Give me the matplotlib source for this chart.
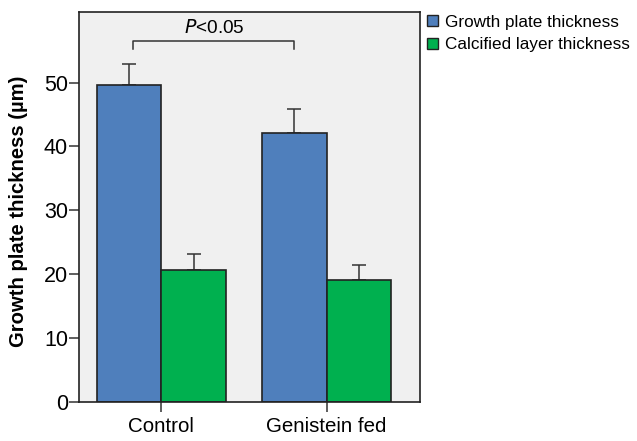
import numpy as np
import matplotlib.pyplot as plt
from matplotlib.patches import Patch

plt.rcParams['font.family'] = ['Liberation Sans', 'DejaVu Sans']

# Daten
groups = ['Control', 'Genistein fed']
growth = [49.6, 42.1]
growth_err = [3.3, 3.7]
calcified = [20.6, 19.0]
calcified_err = [2.55, 2.4]

blue = '#4f7fbc'
green = '#00b04f'
edge = '#222222'

fig = plt.figure(figsize=(6.37, 4.41), dpi=100)
ax = fig.add_axes([0.124, 0.089, 0.536, 0.883])
ax.set_facecolor('#f0f0f0')

x = np.arange(len(groups))
w = 0.39
ax.bar(x - w/2, growth, w, color=blue, edgecolor=edge, linewidth=1.2, zorder=2)
ax.bar(x + w/2, calcified, w, color=green, edgecolor=edge, linewidth=1.2, zorder=2)
# nur obere Fehlerbalken
ax.errorbar(x - w/2, growth, yerr=[np.zeros(2), growth_err], fmt='none',
            ecolor='#333333', elinewidth=1.1, capsize=5, capthick=1.1, zorder=1)
ax.errorbar(x + w/2, calcified, yerr=[np.zeros(2), calcified_err], fmt='none',
            ecolor='#333333', elinewidth=1.1, capsize=5, capthick=1.1, zorder=1)

# Signifikanzklammer
ax.plot([-0.17, -0.17, 0.805, 0.805], [55.2, 56.5, 56.5, 55.2], color='#333333', lw=1.1)
ax.text(0.32, 57.1, r'$\it{P}$<0.05', ha='center', va='bottom', fontsize=13.7)

ax.set_xlim(-0.498, 1.568)
ax.set_ylim(0, 61)
ax.set_yticks([0, 10, 20, 30, 40, 50])
ax.set_xticks(x)
ax.set_xticklabels(groups)
ax.tick_params(axis='both', direction='out', length=7, width=1.1, color='#333333')
ax.tick_params(axis='y', labelsize=15.5, pad=1)
ax.tick_params(axis='x', labelsize=14.8, pad=4)
for s in ax.spines.values():
    s.set_linewidth(1.2)
    s.set_color('#222222')
ax.set_ylabel('Growth plate thickness (µm)', fontsize=14.6, fontweight='bold')
ax.yaxis.set_label_coords(-0.15, 0.49)

handles = [Patch(facecolor=blue, edgecolor=edge, linewidth=1),
           Patch(facecolor=green, edgecolor=edge, linewidth=1)]
fig.legend(handles, ['Growth plate thickness', 'Calcified layer thickness'],
           loc='upper left', bbox_to_anchor=(0.655, 0.990), frameon=False,
           fontsize=12.3, handlelength=0.6, handleheight=0.6, handletextpad=0.45,
           labelspacing=0.45, borderaxespad=0.2)

plt.savefig('out.png', dpi=100)
